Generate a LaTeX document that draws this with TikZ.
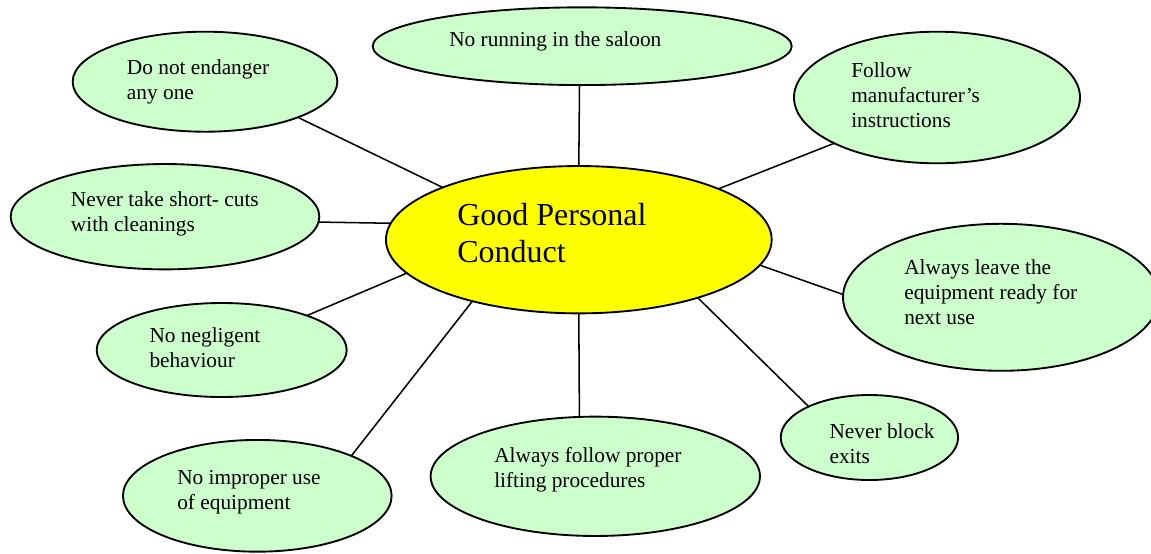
\documentclass[tikz,border=0pt]{standalone}
\usepackage{fontspec}
\setmainfont{Liberation Serif}
\usetikzlibrary{shapes.geometric}
\definecolor{bubble}{HTML}{CCFFCC}
\definecolor{hub}{HTML}{FFFF00}
\newcommand{\bubtext}[1]{\begin{tabular}[t]{@{}l@{}}#1\end{tabular}}
\tikzset{
  bub/.style={ellipse, draw, line width=1.4pt, fill=bubble, inner sep=0pt, outer sep=0pt},
  hubnode/.style={ellipse, draw, line width=1.4pt, fill=hub, inner sep=0pt, outer sep=0pt},
  lbl/.style={anchor=base west, inner sep=0pt, font=\fontsize{16}{18.75}\selectfont},
  biglbl/.style={anchor=base west, inner sep=0pt, font=\fontsize{24}{28.3}\selectfont},
  link/.style={draw, line width=1.15pt}
}
\begin{document}
\begin{tikzpicture}[x=0.75pt, y=-0.75pt]
\useasboundingbox (0,0) rectangle (1151,553);
\clip (0,0) rectangle (1151,553);
\fill[white] (0,0) rectangle (1151,553);

% ellipses
\node[hubnode, minimum width=289.3pt, minimum height=110.5pt] (c) at (578.8,239.7) {};
\node[bub, minimum width=314.25pt, minimum height=58.3pt] (top) at (582.2,46.2) {};
\node[bub, minimum width=198.5pt, minimum height=75pt] (dne) at (205,81.7) {};
\node[bub, minimum width=214.5pt, minimum height=98.7pt] (fol) at (937,97.5) {};
\node[bub, minimum width=231.5pt, minimum height=79pt] (nts) at (165,216.7) {};
\node[bub, minimum width=237pt, minimum height=110.25pt] (alt) at (1001,297.3) {};
\node[bub, minimum width=187.5pt, minimum height=70.5pt] (nn) at (221.7,350) {};
\node[bub, minimum width=201.5pt, minimum height=83.8pt] (nie) at (257.3,495.8) {};
\node[bub, minimum width=247pt, minimum height=89.5pt] (afp) at (595.3,476.3) {};
\node[bub, minimum width=133pt, minimum height=63.75pt] (nbe) at (869.4,437.5) {};

% connectors
\draw[link] (top.-94.7) -- (c.90);
\draw[link] (dne.-21.07) -- (c.159.2);
\draw[link] (fol.204.6) -- (c.20.8);
\draw[link] (nts.-2.7) -- (c.175.2);
\draw[link] (alt.179.5) -- (c.-8.74);
\draw[link] (nn.22.2) -- (c.191.2);
\draw[link] (nie.23.0) -- (c.-150.8);
\draw[link] (afp.105.3) -- (c.-90);
\draw[link] (nbe.153.9) -- (c.-26.8);

% texts
\node[biglbl] (tc) at (457,225) {\bubtext{Good Personal\\Conduct}};
\node[lbl] (ttop) at (449,46.7) {No running in the saloon};
\node[lbl] (tdne) at (126.7,74) {\bubtext{Do not endanger\\any one}};
\node[lbl] (tfol) at (851,77.7) {\bubtext{Follow\\manufacturer’s\\instructions}};
\node[lbl] (tnts) at (70.7,206) {\bubtext{Never take short- cuts\\with cleanings}};
\node[lbl] (talt) at (904,274) {\bubtext{Always leave the\\equipment ready for\\next use}};
\node[lbl] (tnn) at (149.3,342.3) {\bubtext{No negligent\\behaviour}};
\node[lbl] (tnie) at (177,484) {\bubtext{No improper use\\of equipment}};
\node[lbl] (tafp) at (494,462.3) {\bubtext{Always follow proper\\lifting procedures}};
\node[lbl] (tnbe) at (829.3,438.3) {\bubtext{Never block\\exits}};
\end{tikzpicture}
\end{document}
